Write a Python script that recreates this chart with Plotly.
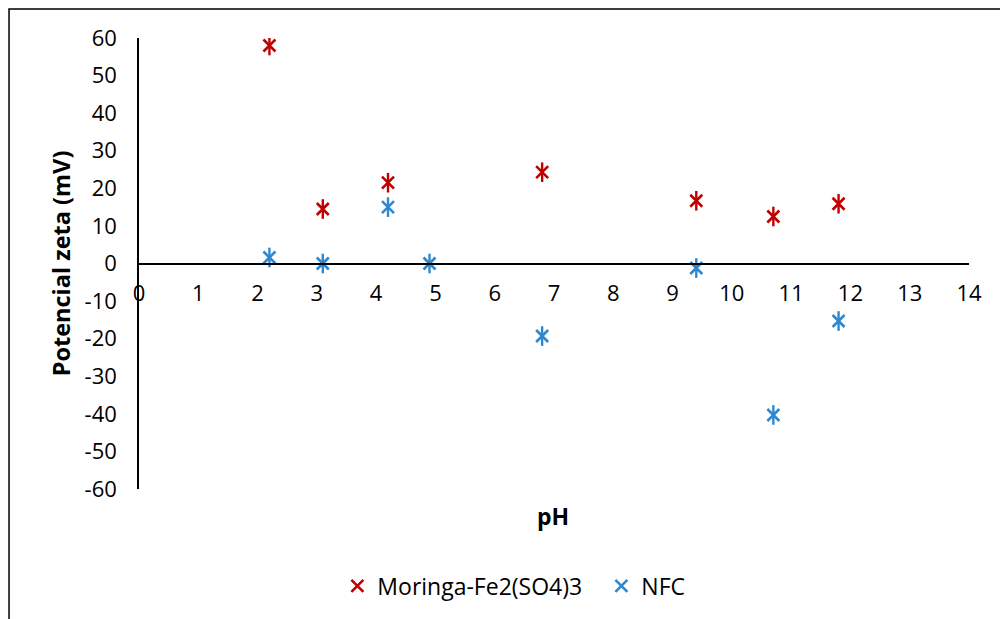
import plotly.graph_objects as go

# pH values and zeta potentials (mV) for each sample
ph_moringa = [2.2, 3.1, 4.2, 6.8, 9.4, 10.7, 11.8]
zeta_moringa = [58, 14.5, 21.5, 24.3, 16.7, 12.5, 15.9]

ph_nfc = [2.2, 3.1, 4.2, 4.9, 6.8, 9.4, 10.7, 11.8]
zeta_nfc = [1.6, 0, 15, 0, -19.3, -1.2, -40.3, -15.3]

x_ticks = list(range(0, 15))
y_ticks = list(range(-60, 61, 10))

RED = "#C00000"
BLUE = "#2E88D0"
FONT = "Open Sans"

fig = go.Figure()


def star_series(xs, ys, name, color):
    # Excel-style star marker: a thin X overlaid with a vertical stroke
    fig.add_trace(go.Scatter(
        x=xs, y=ys, mode="markers", name=name,
        marker=dict(symbol="x-thin-open", size=12, color=color,
                    line=dict(width=2.6, color=color)),
    ))
    fig.add_trace(go.Scatter(
        x=xs, y=ys, mode="markers", name=name, showlegend=False,
        hoverinfo="skip",
        marker=dict(symbol="line-ns-open", size=14, color=color,
                    line=dict(width=2.4, color=color)),
    ))


star_series(ph_moringa, zeta_moringa, "Moringa-Fe2(SO4)3", RED)
star_series(ph_nfc, zeta_nfc, "NFC", BLUE)

fig.update_layout(
    width=1000, height=619,
    margin=dict(l=139, r=31, t=38, b=130),
    paper_bgcolor="white", plot_bgcolor="white",
    font=dict(family=FONT, size=22, color="#000000"),
    showlegend=True,
    legend=dict(orientation="h", x=0.239, xanchor="left", y=-0.215,
                yanchor="middle", font=dict(size=23, family=FONT),
                itemwidth=30, entrywidth=219, tracegroupgap=0),
    xaxis=dict(
        range=[0, 14], tickvals=x_ticks, ticktext=[str(v) for v in x_ticks],
        showgrid=False, zeroline=False, showline=True, linecolor="black",
        linewidth=2, anchor="free", position=0.5,
        ticks="outside", ticklen=10, tickcolor="rgba(0,0,0,0)",
        tickfont=dict(size=22, family=FONT),
    ),
    yaxis=dict(
        range=[-60, 60], tickvals=y_ticks, ticktext=[str(v) for v in y_ticks],
        showgrid=False, zeroline=False, showline=True, linecolor="black",
        linewidth=1.5, ticks="outside", ticklen=16,
        tickcolor="rgba(0,0,0,0)", tickfont=dict(size=22, family=FONT),
        title=dict(text="<b>Potencial zeta (mV)</b>", standoff=7,
                   font=dict(size=23.5, family=FONT)),
    ),
    annotations=[dict(
        text="<b>pH</b>", xref="paper", yref="paper", x=0.499, y=-0.06,
        xanchor="center", yanchor="middle", showarrow=False,
        font=dict(size=23, family=FONT),
    )],
    shapes=[dict(
        type="rect", xref="paper", yref="paper",
        x0=-0.1566, x1=1.05, y0=-0.32, y1=1.0643,
        line=dict(color="black", width=1.5), fillcolor="rgba(0,0,0,0)",
        layer="below",
    )],
)

fig.write_html("out.html")
